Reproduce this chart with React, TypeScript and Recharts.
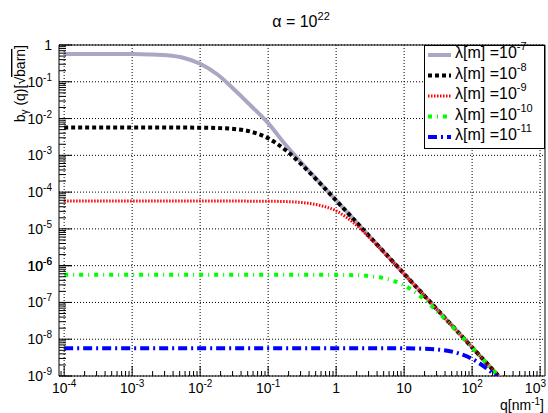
import { LineChart, Line, XAxis, YAxis, ReferenceLine, ReferenceArea } from "recharts"

// q in nm^-1, quarter-decade steps
const qValues = [
  1e-4, 1.778e-4, 3.162e-4, 5.623e-4, 1e-3, 1.778e-3, 3.162e-3, 5.623e-3, 1e-2, 1.778e-2, 3.162e-2, 5.623e-2,
  0.1, 0.1778, 0.3162, 0.5623, 1, 1.778, 3.162, 5.623, 10, 17.78, 31.62, 56.23, 100, 177.8, 316.2,
]

const bLambda7 = [
  0.57, 0.57, 0.569, 0.568, 0.565, 0.553, 0.525, 0.45, 0.31, 0.16, 0.062, 0.022, 0.0075, 0.002, 6.0e-4, 1.9e-4,
  6.0e-5, 1.9e-5, 6.0e-6, 1.9e-6, 6.0e-7, 1.9e-7, 6.0e-8, 1.9e-8, 6.0e-9, 1.9e-9, 6.0e-10,
]
const bLambda8 = [
  5.7e-3, 5.7e-3, 5.7e-3, 5.7e-3, 5.7e-3, 5.7e-3, 5.69e-3, 5.68e-3, 5.65e-3, 5.53e-3, 5.21e-3, 4.38e-3, 2.92e-3,
  1.42e-3, 5.43e-4, 1.84e-4, 5.94e-5, 1.89e-5, 5.99e-6, 1.9e-6, 6.0e-7, 1.9e-7, 6.0e-8, 1.9e-8, 6.0e-9, 1.9e-9, 6.0e-10,
]
const bLambda9 = [
  5.7e-5, 5.7e-5, 5.7e-5, 5.7e-5, 5.7e-5, 5.7e-5, 5.7e-5, 5.7e-5, 5.7e-5, 5.7e-5, 5.7e-5, 5.68e-5, 5.65e-5,
  5.53e-5, 5.21e-5, 4.4e-5, 3.1e-5, 1.5e-5, 5.5e-6, 1.84e-6, 5.94e-7, 1.89e-7, 5.99e-8, 1.9e-8, 6.0e-9, 1.9e-9, 6.0e-10,
]
const bLambda10 = [
  5.7e-7, 5.7e-7, 5.7e-7, 5.7e-7, 5.7e-7, 5.7e-7, 5.7e-7, 5.7e-7, 5.7e-7, 5.7e-7, 5.7e-7, 5.7e-7, 5.7e-7,
  5.7e-7, 5.7e-7, 5.68e-7, 5.65e-7, 5.53e-7, 5.21e-7, 4.38e-7, 2.92e-7, 1.42e-7, 5.43e-8, 1.84e-8, 5.94e-9, 1.89e-9, 6.0e-10,
]
const bLambda11 = [
  5.7e-9, 5.7e-9, 5.7e-9, 5.7e-9, 5.7e-9, 5.7e-9, 5.7e-9, 5.7e-9, 5.7e-9, 5.7e-9, 5.7e-9, 5.7e-9, 5.7e-9,
  5.7e-9, 5.7e-9, 5.7e-9, 5.7e-9, 5.7e-9, 5.7e-9, 5.7e-9, 5.65e-9, 5.53e-9, 5.21e-9, 4.38e-9, 2.92e-9, 1.42e-9, 5.43e-10,
]

const xMajorTicks = [1e-4, 1e-3, 1e-2, 1e-1, 1, 10, 100, 1000]
const yMajorTicks = [1e-9, 1e-8, 1e-7, 1e-6, 1e-5, 1e-4, 1e-3, 1e-2, 1e-1, 1]

const X_MIN = 8.4e-5
const X_MAX = 1180
const Y_MIN = 1e-9
const Y_MAX = 1

const FONT = "'Liberation Sans', Arial, Helvetica, sans-serif"

const seriesDefs = [
  { exp: "-7", values: bLambda7, color: "#a9a7c4", width: 4, dash: undefined },
  { exp: "-8", values: bLambda8, color: "#000000", width: 4, dash: "4 3" },
  { exp: "-9", values: bLambda9, color: "#ff0000", width: 3, dash: "1.5 1.5" },
  { exp: "-10", values: bLambda10, color: "#00ff00", width: 4, dash: "4 5 1 5" },
  { exp: "-11", values: bLambda11, color: "#0000ff", width: 4, dash: "9 4 2 4" },
]

const withMinors = (majors: number[], lo: number, hi: number) => {
  const out: number[] = []
  majors.forEach((m) => {
    for (let k = 1; k < 10; k++) {
      const v = (m / 10) * k
      if (v >= lo && v <= hi) out.push(v)
    }
  })
  majors.forEach((m) => { if (m >= lo && m <= hi && !out.includes(m)) out.push(m) })
  return out.sort((a, b) => a - b)
}

const isDecade = (v: number) => Math.abs(Math.log10(v) - Math.round(Math.log10(v))) < 1e-6

function PowLabel({ x, y, v, anchor }: { x: number; y: number; v: number; anchor: "middle" | "end" }) {
  const e = Math.round(Math.log10(v))
  if (e === 0 || e === 1) {
    return (
      <text x={x} y={y} textAnchor={anchor} fontFamily={FONT} fontSize={14} fill="#000">
        {e === 0 ? "1" : "10"}
      </text>
    )
  }
  return (
    <text x={x} y={y} textAnchor={anchor} fontFamily={FONT} fontSize={14} fill="#000">
      <tspan>10</tspan>
      <tspan dy={-6} fontSize={10}>{e < 0 ? `-${-e}` : `${e}`}</tspan>
    </text>
  )
}

function XTick(props: any) {
  const { x, y, payload } = props
  const major = isDecade(payload.value)
  // ROOT pulls the last label inside the pad
  const last = major && Math.round(Math.log10(payload.value)) === 3
  return (
    <g>
      <line x1={x} x2={x} y1={y} y2={y - (major ? 10 : 5)} stroke="#000" />
      {major && (
        <PowLabel x={last ? 546 : x} y={y + 17} v={payload.value} anchor={last ? "end" : "middle"} />
      )}
    </g>
  )
}

function YTick(props: any) {
  const { x, y, payload } = props
  const major = isDecade(payload.value)
  return (
    <g>
      <line x1={x} x2={x + (major ? 13 : 7)} y1={y} y2={y} stroke="#000" />
      {major && <PowLabel x={x - 7} y={y + 5} v={payload.value} anchor="end" />}
    </g>
  )
}

function Overlay() {
  const baseY = 58
  const step = 20.5
  return (
    <svg width={548} height={413} style={{ position: "absolute", left: 0, top: 0, pointerEvents: "none" }}>
      <text x={301} y={27} textAnchor="middle" fontFamily={FONT} fontSize={16} fill="#000">
        <tspan>α = 10</tspan>
        <tspan dy={-7} fontSize={11}>22</tspan>
      </text>
      <g transform="translate(25,45) rotate(-90)">
        <text x={0} y={0} textAnchor="end" fontFamily={FONT} fontSize={14} fill="#000">
          <tspan>b</tspan>
          <tspan dy={3} fontSize={10}>γ</tspan>
          <tspan dy={-3}> (q)[√</tspan>
          <tspan textDecoration="overline">barn</tspan>
          <tspan>]</tspan>
        </text>
      </g>
      <text x={544} y={410} textAnchor="end" fontFamily={FONT} fontSize={14} fill="#000">
        <tspan>q[nm</tspan>
        <tspan dy={-5} fontSize={10}>-1</tspan>
        <tspan dy={5}>]</tspan>
      </text>
      <rect x={424.5} y={45.5} width={120} height={103} fill="#fff" stroke="#000" />
      {seriesDefs.map((s, i) => {
        const by = baseY + i * step
        return (
          <g key={s.exp}>
            <line x1={428} x2={451} y1={by - 3} y2={by - 3} stroke={s.color} strokeWidth={s.width} strokeDasharray={s.dash} />
            <text x={455} y={by} fontFamily={FONT} fontSize={16} fill="#000">
              <tspan>λ[m] =10</tspan>
              <tspan dy={-8} fontSize={11}>{s.exp}</tspan>
            </text>
          </g>
        )
      })}
    </svg>
  )
}

export default function App() {
  const xTicks = withMinors(xMajorTicks, X_MIN, X_MAX)
  const yTicks = withMinors(yMajorTicks, Y_MIN, Y_MAX)
  const lines = seriesDefs.map((s) => ({ ...s, data: qValues.map((q, i) => ({ q, b: s.values[i] })) }))

  return (
    <div style={{ position: "absolute", left: 0, top: 0, width: 548, height: 413, background: "#fff" }}>
      <LineChart width={548} height={413} margin={{ top: 45, right: 3, bottom: 0, left: 0 }}>
        <XAxis
          dataKey="q"
          type="number"
          scale="log"
          domain={[X_MIN, X_MAX]}
          allowDataOverflow
          ticks={xTicks}
          interval={0}
          tickSize={0}
          tickMargin={0}
          tick={<XTick />}
          axisLine={false}
          height={37}
        />
        <YAxis
          dataKey="b"
          type="number"
          scale="log"
          domain={[Y_MIN, Y_MAX]}
          allowDataOverflow
          ticks={yTicks}
          interval={0}
          tickSize={0}
          tickMargin={0}
          tick={<YTick />}
          axisLine={false}
          width={59}
        />
        {xMajorTicks.map((v) => (
          <ReferenceLine key={`gx${v}`} x={v} stroke="#000" strokeDasharray="1 2" />
        ))}
        {yMajorTicks.map((v) => (
          <ReferenceLine key={`gy${v}`} y={v} stroke="#000" strokeDasharray="1 2" />
        ))}
        {lines.map((s) => (
          <Line
            key={s.exp}
            data={s.data}
            dataKey="b"
            type="monotone"
            stroke={s.color}
            strokeWidth={s.width}
            strokeDasharray={s.dash}
            dot={false}
            activeDot={false}
            isAnimationActive={false}
          />
        ))}
        <ReferenceArea x1={X_MIN} x2={X_MAX} y1={Y_MIN} y2={Y_MAX} fill="none" stroke="#000" strokeWidth={1} fillOpacity={0} />
      </LineChart>
      <Overlay />
    </div>
  )
}
